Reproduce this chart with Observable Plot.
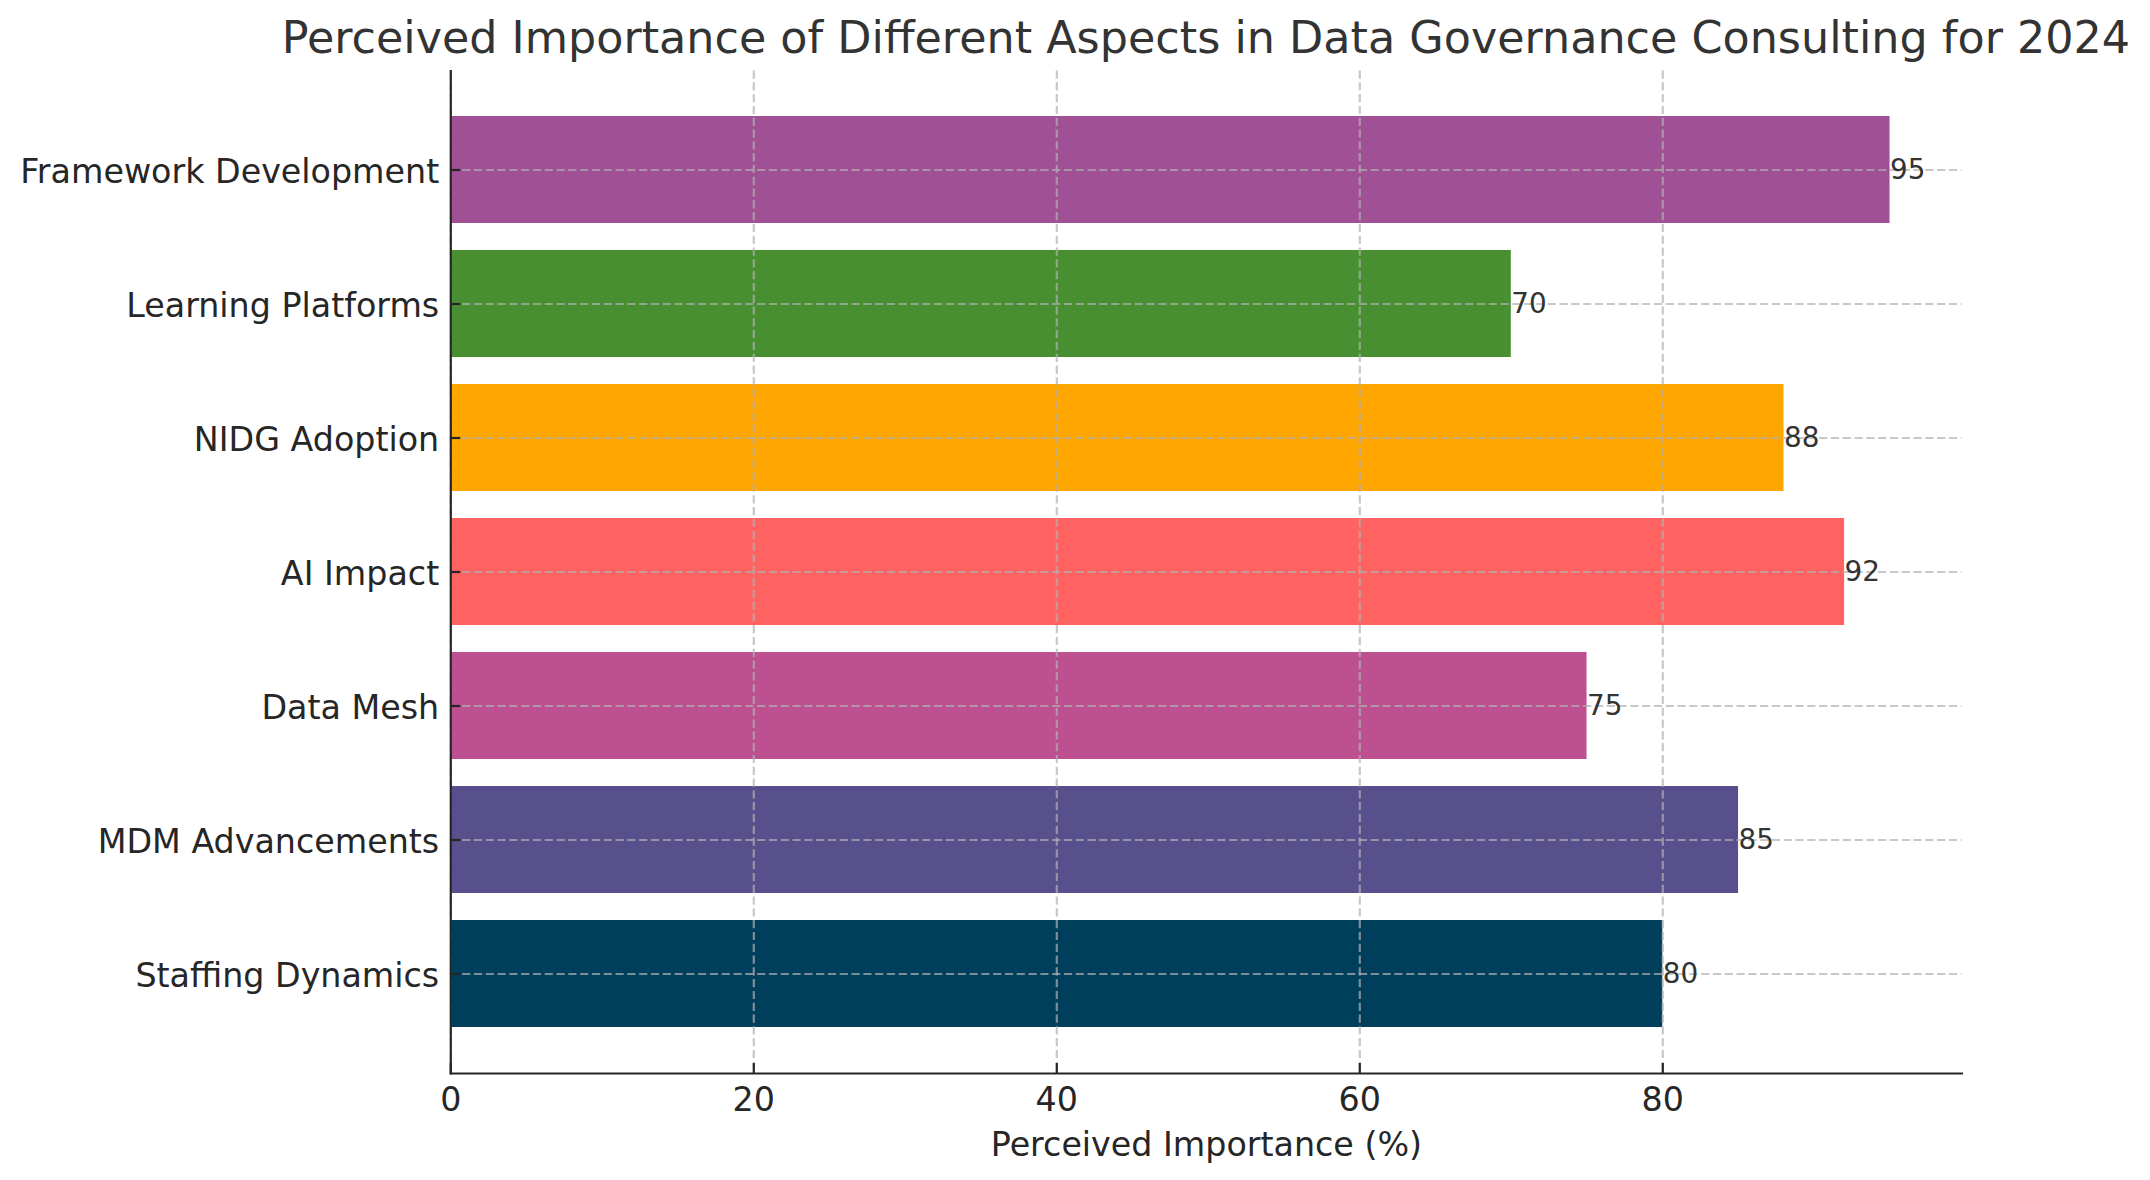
<!DOCTYPE html>
<html>
<head>
<meta charset="utf-8">
<script src="https://cdn.jsdelivr.net/npm/d3@7"></script>
<script src="https://cdn.jsdelivr.net/npm/@observablehq/plot@0.6"></script>
<style>
  html, body { margin: 0; padding: 0; background: #fff; overflow: hidden; }
  body { width: 2150px; font-family: "DejaVu Sans", sans-serif; }
  #title { position: relative; height: 70px; }
  #title span {
    position: absolute; left: 1205.9px; top: 16.4px; transform: translateX(-50%);
    font-size: 44.44px; line-height: 1; color: #333333; white-space: nowrap;
  }
</style>
</head>
<body>
<div id="title"><span></span></div>
<div id="chart"></div>
<script>
const titleText = "Perceived Importance of Different Aspects in Data Governance Consulting for 2024";
const xLabel = "Perceived Importance (%)";
// top to bottom
const categories = ["Framework Development", "Learning Platforms", "NIDG Adoption", "AI Impact", "Data Mesh", "MDM Advancements", "Staffing Dynamics"];
const values = [95, 70, 88, 92, 75, 85, 80];
const barColors = ["#a05195", "#488f31", "#ffa600", "#ff6361", "#bc5090", "#58508d", "#003f5c"];
const xTicks = [0, 20, 40, 60, 80];
const xDomain = [0, 99.75];

const data = categories.map((c, i) => ({name: c, value: values[i]}));

document.querySelector("#title span").textContent = titleText;

const gridStyle = {stroke: "#b0b0b0", strokeOpacity: 0.7, strokeWidth: 2.2, strokeDasharray: "8.2,3.6"};

const chart = Plot.plot({
  width: 2150,
  height: 1110,
  marginTop: 0.5,
  marginBottom: 107,
  marginLeft: 450.3,
  marginRight: 188.5,
  style: {fontFamily: "DejaVu Sans, sans-serif", color: "#262626", background: "#fff", overflow: "visible"},
  x: {domain: xDomain, ticks: xTicks},
  y: {domain: categories, paddingInner: 0.2, paddingOuter: 0.34, align: 0.5},
  color: {domain: categories, range: barColors},
  marks: [
    Plot.barX(data, {x: "value", y: "name", fill: "name"}),
    Plot.gridX(xTicks, gridStyle),
    Plot.gridY(categories, gridStyle),
    Plot.text(data, {x: "value", y: "name", text: d => String(d.value), textAnchor: "start", lineAnchor: "middle", fontSize: 27.8, fill: "#333333"}),
    Plot.frame({anchor: "left", stroke: "#262626", strokeWidth: 2.2}),
    Plot.frame({anchor: "bottom", stroke: "#262626", strokeWidth: 2.2}),
    // inward tick marks
    Plot.axisY({tickSize: -10, strokeWidth: 2.2, label: null, stroke: "#262626", tickFormat: () => ""}),
    // tick labels
    Plot.axisY({tickSize: 0, tickPadding: 11.6, fontSize: 33.3, label: null, dy: 2.5, fill: "#262626"}),
    Plot.axisX(xTicks, {tickSize: -10, tickPadding: 23.7, fontSize: 33.3, strokeWidth: 2.2, label: null, stroke: "#262626"}),
    Plot.text([xLabel], {frameAnchor: "bottom", dy: 72, lineAnchor: "middle", fontSize: 33.3, fill: "#262626"})
  ]
});
document.getElementById("chart").appendChild(chart);
</script>
</body>
</html>
